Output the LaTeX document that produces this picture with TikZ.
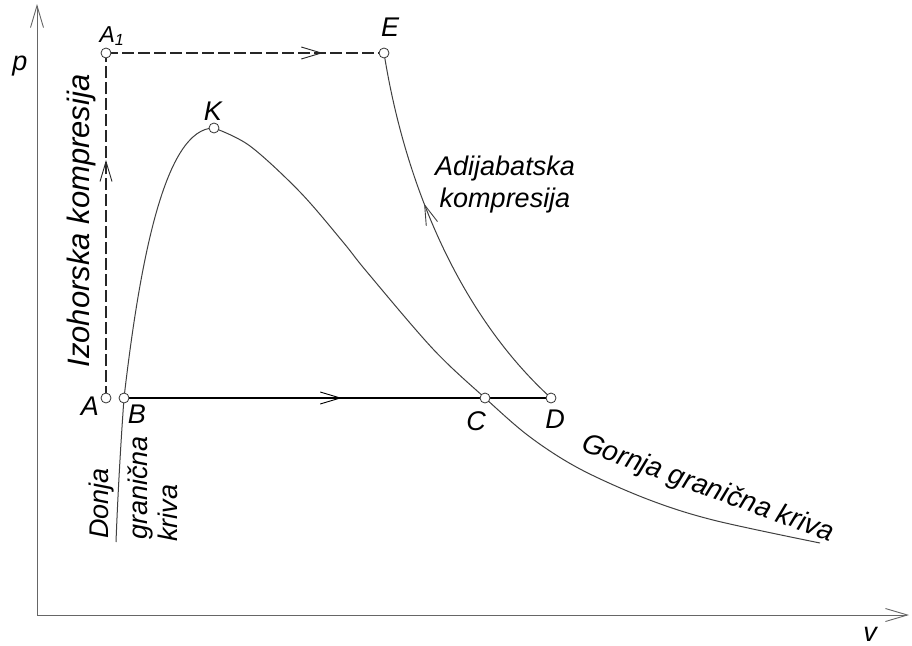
\documentclass[tikz,border=0pt]{standalone}
\usepackage{fontspec}
\setmainfont{Liberation Sans}
\usetikzlibrary{arrows.meta,decorations.markings}
\begin{document}
\begin{tikzpicture}[x=1pt,y=-1pt,
  lbl/.style={font=\fontsize{27}{32}\selectfont\itshape, inner sep=0pt},
  txt/.style={font=\fontsize{27}{32}\selectfont\itshape, inner sep=0pt},
  pnt/.style={circle,draw=black!80,fill=white,line width=0.8pt,inner sep=0pt,minimum size=10pt},
  barb/.tip={Straight Barb[length=20pt,width=12pt,line width=0.9pt]},
  axbarb/.tip={Straight Barb[length=22pt,width=13pt,line width=0.9pt]},
  axis/.style={draw=black!60,line width=1pt},
  curve/.style={draw=black!75,line width=1pt},
  dashline/.style={draw=black!85,line width=1.5pt,dash pattern=on 12pt off 4pt},
  solidline/.style={draw=black,line width=1.6pt},
  midarrow/.style={postaction={decorate,decoration={markings,mark=at position #1 with {\arrow{barb}}}}}
]
\useasboundingbox (0,0) rectangle (912,645);
\fill[white] (0,0) rectangle (912,645);

% key points
\coordinate (O) at (37,615);
\coordinate (Ytop) at (37,4);
\coordinate (Xend) at (909,615);
\coordinate (A) at (106,398);
\coordinate (B) at (124,398);
\coordinate (C) at (485,398);
\coordinate (D) at (551,398);
\coordinate (A1) at (106,53);
\coordinate (E) at (384,53);
\coordinate (K) at (214,128);
\coordinate (Lbot) at (116,542);
\coordinate (Rend) at (820,543);

% axes
\draw[axis,-axbarb] (O) -- (Ytop);
\draw[axis,-axbarb] (O) -- (Xend);

% saturation curve: lower (left) branch
\draw[curve] (Lbot) .. controls (118,490) and (121,440) .. (B)
  .. controls (140,260) and (165,128) .. (K);
% upper (right) branch
\draw[curve] plot[smooth,tension=0.55] coordinates {
  (K) (250,146) (300,192) (343,242) (367,272) (433,349) (C)
  (530,437) (580,469) (647,499) (713,520) (Rend)};

% adiabatic compression
\draw[curve,midarrow=0.6] (D) .. controls (460,315) and (405,185) .. (E);

% isochoric compression
\draw[dashline,midarrow=0.69] (A) -- (A1);
\draw[dashline,midarrow=0.78] (A1) -- (E);

% evaporation
\draw[solidline,midarrow=0.51] (B) -- (D);

% points
\foreach \n in {A,B,C,D,A1,E,K}
  \node[pnt] (p\n) at (\n) {};

% labels
\node[lbl] (lp) at (20,66) {p};
\node[lbl] (lv) at (870,634) {v};
\node[lbl,font=\fontsize{23}{27}\selectfont\itshape] (lA1) at (112,36) {A\textsubscript{1}};
\node[lbl] (lE) at (390,27) {E};
\node[lbl] (lK) at (213,111) {K};
\node[lbl] (lA) at (90,406) {A};
\node[lbl] (lB) at (137,414) {B};
\node[lbl] (lC) at (476,421) {C};
\node[lbl] (lD) at (555,419) {D};

\node[txt,font=\fontsize{31}{36}\selectfont\itshape,rotate=90] (liz) at (81,221) {Izohorska kompresija};
\node[txt,align=center] (lad) at (505,185) {Adijabatska\\kompresija};
\node[txt,rotate=90,anchor=base west] (ld1) at (108,539) {Donja};
\node[txt,rotate=90,anchor=base west] (ld2) at (147,540) {granična};
\node[txt,rotate=90,anchor=base west] (ld3) at (177,542) {kriva};
\node[txt,font=\fontsize{28}{32}\selectfont\itshape,rotate=-20] (lg) at (708,489) {Gornja granična kriva};
\end{tikzpicture}
\end{document}
